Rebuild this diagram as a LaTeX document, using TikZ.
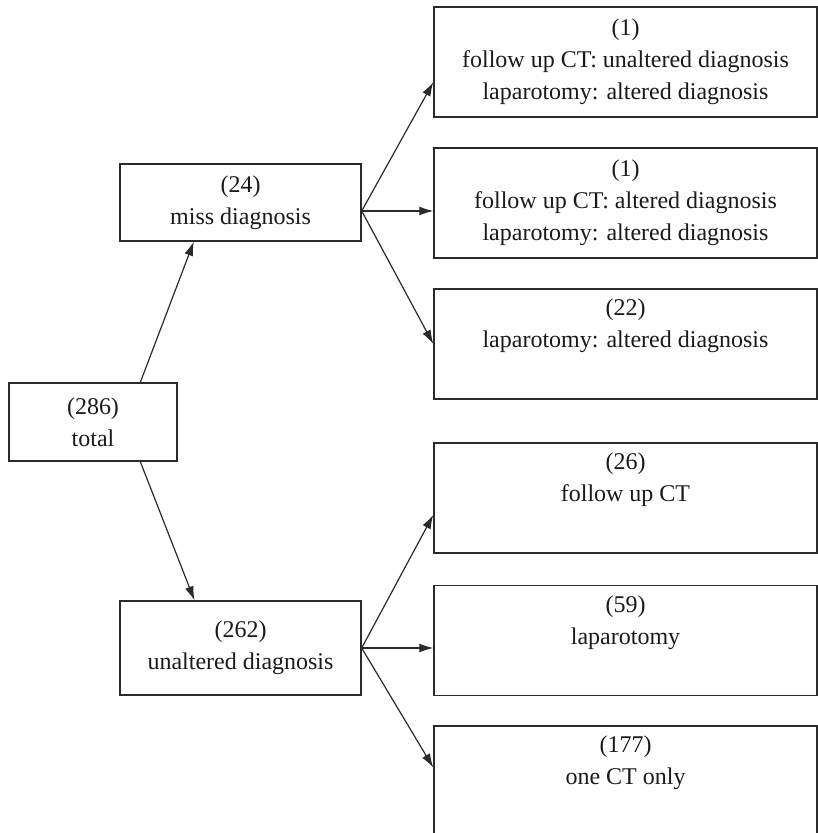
\documentclass[tikz,border=0pt]{standalone}
\usepackage{fontspec}
\setmainfont{Liberation Serif}
\usetikzlibrary{arrows.meta}
\definecolor{boxline}{HTML}{2A2A2A}
\definecolor{textgray}{HTML}{1A1A1A}

\begin{document}
\begin{tikzpicture}[x=1pt,y=-1pt,
    box/.style={draw=boxline, line width=1.4pt, align=center, inner sep=0pt,
      font=\fontsize{24}{32}\selectfont, text=textgray},
    leftbox/.style={box, minimum width=241pt},
    rightbox/.style={box, minimum width=383pt, minimum height=110pt},
    arr/.style={draw=boxline, line width=1.2pt, -{Latex[length=14pt,width=9pt]}}]
  \useasboundingbox (0,0) rectangle (818,833);
  % left column
  \node[box, minimum width=168pt, minimum height=78pt] (total) at (93,422) {(286)\\total};
  \node[leftbox, minimum height=77pt] (miss) at (240.5,202.5) {(24)\\miss diagnosis};
  \node[leftbox, minimum height=94pt] (unalt) at (240.5,648) {(262)\\unaltered diagnosis};
  % right column
  \node[rightbox] (fuA) at (625.5,62) {(1)\\follow up CT: unaltered diagnosis\\laparotomy: altered diagnosis};
  \node[rightbox] (fuB) at (625.5,203) {(1)\\follow up CT: altered diagnosis\\laparotomy: altered diagnosis};
  \node[rightbox] (lapA) at (625.5,344) {(22)\\laparotomy: altered diagnosis\\\strut};
  \node[rightbox] (fuC) at (625.5,498) {(26)\\follow up CT\\\strut};
  \node[rightbox] (lapB) at (625.5,640.5) {(59)\\laparotomy\\\strut};
  \node[rightbox] (once) at (625.5,781) {(177)\\one CT only\\\strut};
  % connectors
  \draw[arr] (total.40) -- (miss.220);
  \draw[arr] (total.-40) -- (unalt.134);
  \draw[arr] (miss.-4) -- (fuA.186);
  \draw[arr] (miss.-4) -- (miss.-4 -| fuB.west);
  \draw[arr] (miss.-4) -- (lapA.west);
  \draw[arr] (unalt.east) -- (fuC.185);
  \draw[arr] (unalt.east) -- (unalt.east -| lapB.west);
  \draw[arr] (unalt.east) -- (once.176);
\end{tikzpicture}
\end{document}
